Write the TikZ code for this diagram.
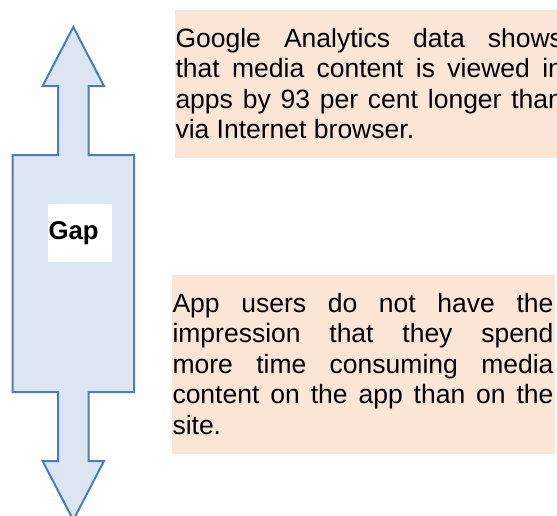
\documentclass[tikz,border=0pt]{standalone}
\usepackage{fontspec}
\setmainfont{Liberation Sans}
\usepackage{xcolor}
\usepackage{tikz}
\definecolor{arrowfill}{HTML}{DCE6F2}
\definecolor{arrowline}{HTML}{4A7EBB}
\definecolor{notefill}{HTML}{FBE5D6}
\tikzset{
    gaparrow/.style = {draw=arrowline, fill=arrowfill, line width=0.8pt, line join=miter},
    note/.style = {rectangle, fill=notefill, anchor=north west, align=justify, inner xsep=0.4pt, inner ysep=0pt, font=\fontsize{10.6}{12.2}\selectfont},
    gaplabel/.style = {rectangle, fill=white, align=left, text width=24.8pt, minimum height=23.2pt, inner xsep=0.4pt, inner ysep=0pt, font=\fontsize{10.3}{12}\selectfont\bfseries}
}

\begin{document}
\begin{tikzpicture}[x=0.4pt, y=-0.4pt]
\useasboundingbox (0,0) rectangle (557,515);
\draw [gaparrow] (73.3,27) -- (104,86) -- (88.7,86) -- (88.7,155) -- (134,155) -- (134,392) -- (88.7,392) -- (88.7,461) -- (104,461) -- (73.3,520) -- (42.6,461) -- (58,461) -- (58,392) -- (12.7,392) -- (12.7,155) -- (58,155) -- (58,86) -- (42.6,86) -- cycle;
\node (gap) [gaplabel] at (79.5,233) {Gap};
\node (analytics) [note, text width=155pt, minimum height=59.2pt] at (174,9) {Google Analytics data shows\linebreak that media content is viewed in\linebreak apps by 93 per cent longer than\linebreak via Internet browser.};
\node (users) [note, text width=152.4pt, minimum height=71.6pt] at (171,274) {App users do not have the\linebreak impression that they spend\linebreak more time consuming media\linebreak content on the app than on the\linebreak site.};
\end{tikzpicture}
\end{document}
